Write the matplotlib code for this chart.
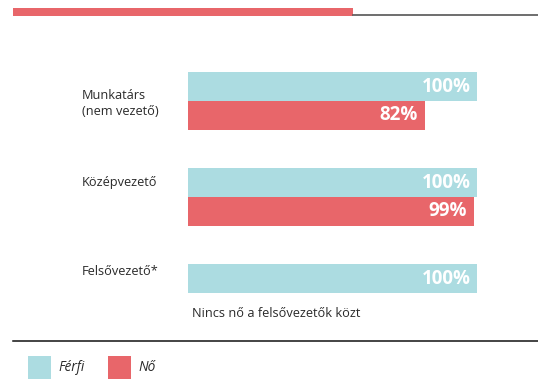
import matplotlib.pyplot as plt
from matplotlib.patches import Rectangle
from matplotlib.lines import Line2D
from matplotlib.transforms import blended_transform_factory

plt.rcParams['font.family'] = ['Open Sans', 'DejaVu Sans']

# data
groups = ['Munkatárs\n(nem vezető)', 'Középvezető', 'Felsővezető*']
ferfi = [100, 100, 100]
no = [82, 99, None]   # no women among top managers
series_names = ['Férfi', 'Nő']
note = 'Nincs nő a felsővezetők közt'

c_ferfi = '#acdce1'
c_no = '#e8666a'

W, H = 538, 391
fig = plt.figure(figsize=(W / 100, H / 100), dpi=100)

def px(x, y):
    # figure pixel (from top-left) -> figure fraction
    return x / W, 1 - y / H

ax = fig.add_axes([188 / W, (H - 341) / H, 289 / W, 288 / H])
ax.set_xlim(0, 100)
ax.set_ylim(2.5, -0.5)
ax.axis('off')

h = 0.302
for i, (f, n) in enumerate(zip(ferfi, no)):
    ax.barh(i - h / 2, f, height=h, color=c_ferfi, align='center')
    ax.annotate(f'{f}%', (f, i - h / 2), xytext=(-4.5, 0), textcoords='offset points',
                ha='right', va='center', color='white', fontsize=13.5, fontweight='bold')
    if n is not None:
        ax.barh(i + h / 2, n, height=h, color=c_no, align='center')
        ax.annotate(f'{n}%', (n, i + h / 2), xytext=(-5.5, 0), textcoords='offset points',
                    ha='right', va='center', color='white', fontsize=13.5, fontweight='bold')

# category labels on the left
tr = blended_transform_factory(fig.transFigure, ax.transData)
label_y = [0.03, 1 - 0.15, 1.78]
for g, y in zip(groups, label_y):
    ax.text(82 / W, y, g, transform=tr, ha='left', va='center', fontsize=9.2,
            color='#2a2a2a', linespacing=1.3)

ax.text(192 / W, 2.21, note, transform=tr, ha='left', va='center', fontsize=9.2,
        color='#2a2a2a')

# header stripe and rule
x0, y0 = px(13, 16)
fig.add_artist(Rectangle((x0, y0), 340 / W, 8 / H, transform=fig.transFigure,
                         color=c_no, lw=0))
fig.add_artist(Line2D([353 / W, 1], [1 - 14.5 / H] * 2, transform=fig.transFigure,
                      color='#555555', lw=1.2))

# bottom rule
fig.add_artist(Line2D([13 / W, 1], [1 - 341 / H] * 2, transform=fig.transFigure,
                      color='#111111', lw=1.1))

# legend
for name, col, lx in zip(series_names, [c_ferfi, c_no], [28, 108]):
    sx, sy = px(lx, 379)
    fig.add_artist(Rectangle((sx, sy), 23 / W, 23 / H, transform=fig.transFigure,
                             color=col, lw=0))
    tx, ty = px(lx + 30, 367.5)
    fig.text(tx, ty, name, ha='left', va='center', fontsize=9.8, style='italic',
             color='#2a2a2a')

fig.savefig('out.png', dpi=100)
